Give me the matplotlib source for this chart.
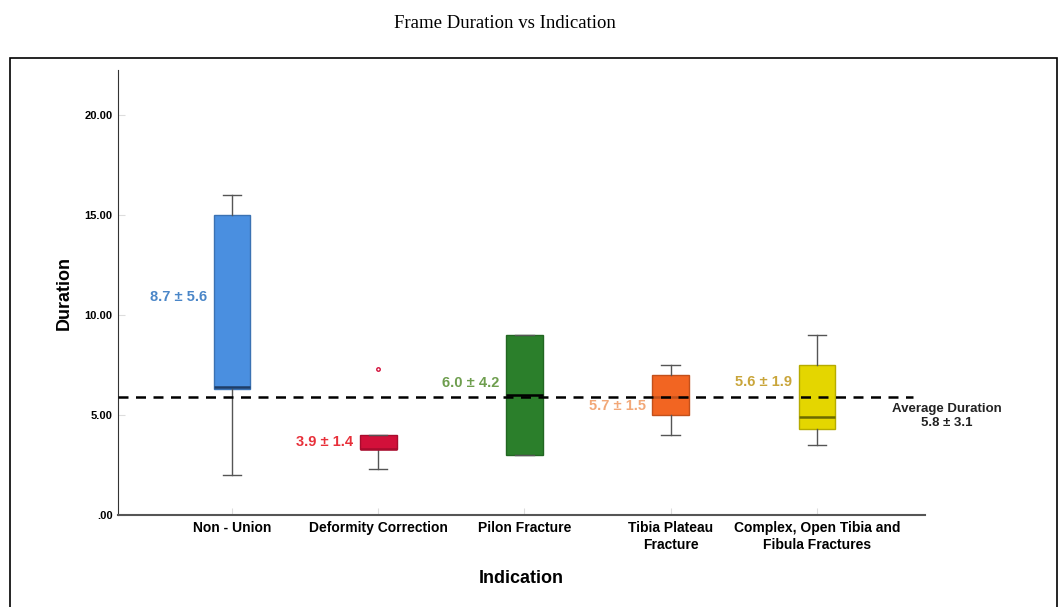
import numpy as np
from matplotlib import pyplot as plt
from matplotlib.patches import Rectangle

# data
indications = ['Non - Union', 'Deformity Correction', 'Pilon Fracture',
               'Tibia Plateau\nFracture', 'Complex, Open Tibia and\nFibula Fractures']
whisker_low = [2.0, 2.3, 3.0, 4.0, 3.5]
q1 = [6.3, 3.3, 3.0, 5.0, 4.3]
median = [6.4, 3.3, 6.0, 5.9, 4.9]
q3 = [15.0, 4.0, 9.0, 7.0, 7.5]
whisker_high = [16.0, 4.0, 9.0, 7.5, 9.0]
outliers = [[], [7.3], [], [], []]
mean_sd_labels = ['8.7 ± 5.6', '3.9 ± 1.4', '6.0 ± 4.2', '5.7 ± 1.5', '5.6 ± 1.9']
label_y = [10.9, 3.65, 6.6, 5.45, 6.65]
average_duration = 5.9
average_label = 'Average Duration\n5.8 ± 3.1'
yticks = [0, 5, 10, 15, 20]
ytick_labels = ['.00', '5.00', '10.00', '15.00', '20.00']

box_colors = ['#4a8fe0', '#d2103a', '#2b7f2b', '#f26522', '#e4d600']
edge_colors = ['#3b72b3', '#a80c2e', '#226622', '#c2501b', '#b6ab00']
median_colors = ['#1f3d66', '#a80c2e', '#000000', '#c2501b', '#6b6a00']
text_colors = ['#4a86c8', '#e8303a', '#6e9e4e', '#f2a878', '#c9a53a']

plt.rcParams['font.family'] = ['Liberation Sans', 'DejaVu Sans']

fig = plt.figure(figsize=(10.6, 6.07), dpi=100)

# outer frame around the chart
fig.patches.append(Rectangle((10 / 1060, -0.05), 1047 / 1060, 1 - 58 / 607 + 0.05,
                             transform=fig.transFigure, fill=False,
                             edgecolor='black', linewidth=1.2))

fig.text(0.476, 0.962, 'Frame Duration vs Indication', ha='center', va='center',
         fontsize=13.5, family='Liberation Serif')

ax = fig.add_axes([118 / 1060, 1 - 515 / 607, 807 / 1060, 445 / 607])

positions = np.arange(len(indications))
stats = []
for i in range(len(indications)):
    stats.append({'whislo': whisker_low[i], 'q1': q1[i], 'med': median[i],
                  'q3': q3[i], 'whishi': whisker_high[i], 'fliers': outliers[i]})

bp = ax.bxp(stats, positions=positions, widths=0.25, patch_artist=True,
            showfliers=True, showcaps=True)
for i, box in enumerate(bp['boxes']):
    box.set_facecolor(box_colors[i])
    box.set_edgecolor(edge_colors[i])
    box.set_linewidth(1.0)
for i, med in enumerate(bp['medians']):
    med.set_color(median_colors[i])
    med.set_linewidth(1.8)
for w in bp['whiskers']:
    w.set_color('#555555')
    w.set_linewidth(1.0)
for c in bp['caps']:
    c.set_color('#555555')
    c.set_linewidth(1.0)
for i, f in enumerate(bp['fliers']):
    f.set_marker('o')
    f.set_markersize(2.5)
    f.set_markerfacecolor('none')
    f.set_markeredgecolor(box_colors[i])

ax.axhline(average_duration, xmin=0, xmax=(913 - 118) / 807, color='black',
           linestyle=(0, (4, 3)), linewidth=1.8, zorder=5)

for i, lab in enumerate(mean_sd_labels):
    ax.text(positions[i] - 0.17, label_y[i], lab, ha='right', va='center',
            fontsize=10.5, fontweight='bold', color=text_colors[i])

ax.text(4.89, average_duration - 0.95, average_label, ha='center', va='center',
        fontsize=9.5, fontweight='bold', color='#222222', linespacing=1.25,
        clip_on=False)

ax.set_xlim(-0.78, 4.74)
ax.set_ylim(0, 22.25)
ax.set_xticks(positions)
ax.set_xticklabels(indications, fontsize=10, fontweight='bold', linespacing=1.3)
ax.set_yticks(yticks)
ax.set_yticklabels(ytick_labels, fontsize=8, fontweight='bold')
ax.tick_params(axis='both', direction='in', length=5, color='#dddddd', pad=4)

ax.set_xlabel('Indication', fontsize=13, fontweight='bold', labelpad=13)
ax.set_ylabel('Duration', fontsize=13, fontweight='bold', labelpad=8)

for side in ['top', 'right']:
    ax.spines[side].set_visible(False)
ax.spines['left'].set_color('#333333')
ax.spines['bottom'].set_color('#555555')
ax.spines['bottom'].set_linewidth(1.5)

plt.savefig('out.png', dpi=100)
